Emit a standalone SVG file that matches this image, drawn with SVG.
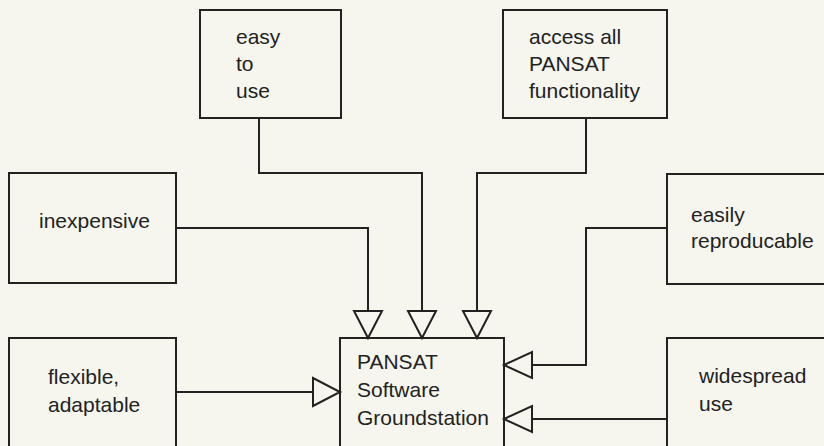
<svg xmlns="http://www.w3.org/2000/svg" width="824" height="446" viewBox="0 0 824 446">
<style>
.box{fill:none;stroke:#222;stroke-width:2}
.t{font-family:"Liberation Sans",Arial,sans-serif;font-size:21px;fill:#222}
.c{fill:none;stroke:#222;stroke-width:2}
.a{fill:#f6f6ef;stroke:#222;stroke-width:2;stroke-linejoin:miter}
</style>
<rect width="824" height="446" fill="#f6f6ef"/>
<g id="easy">
<rect class="box" x="200" y="10" width="141" height="108"/>
<text class="t" x="236" y="43.5">easy</text>
<text class="t" x="236" y="70.5">to</text>
<text class="t" x="236" y="97.5">use</text>
</g>
<g id="access">
<rect class="box" x="503" y="10" width="164" height="108"/>
<text class="t" x="529" y="43.5">access all</text>
<text class="t" x="529" y="70.5">PANSAT</text>
<text class="t" x="529" y="97.5">functionality</text>
</g>
<g id="inexpensive">
<rect class="box" x="9" y="173" width="167" height="110"/>
<text class="t" x="39" y="228">inexpensive</text>
</g>
<g id="flexible">
<rect class="box" x="9" y="338" width="167" height="120"/>
<text class="t" x="48" y="384">flexible,</text>
<text class="t" x="48" y="412">adaptable</text>
</g>
<g id="pansat">
<rect class="box" x="340" y="338" width="164" height="120"/>
<text class="t" x="357" y="369">PANSAT</text>
<text class="t" x="357" y="397">Software</text>
<text class="t" x="357" y="425">Groundstation</text>
</g>
<g id="reproducable">
<rect class="box" x="667" y="174" width="180" height="110"/>
<text class="t" x="691" y="222">easily</text>
<text class="t" x="691" y="248">reproducable</text>
</g>
<g id="widespread">
<rect class="box" x="667" y="338" width="180" height="120"/>
<text class="t" x="699" y="383">widespread</text>
<text class="t" x="699" y="411">use</text>
</g>
<g id="connectors">
<path class="c" d="M176,228 H368 V311"/>
<polygon class="a" points="354,311 382,311 368,338"/>
<path class="c" d="M259,118 V173 H422 V311"/>
<polygon class="a" points="408,311 436,311 422,338"/>
<path class="c" d="M586,118 V173 H477 V311"/>
<polygon class="a" points="463,311 491,311 477,338"/>
<path class="c" d="M176,392 H313"/>
<polygon class="a" points="313,378 313,406 340,392"/>
<path class="c" d="M667,228 H586 V365 H532"/>
<polygon class="a" points="532,352 532,378 504,365"/>
<path class="c" d="M667,419 H532"/>
<polygon class="a" points="532,406 532,432 504,419"/>
</g>
</svg>
